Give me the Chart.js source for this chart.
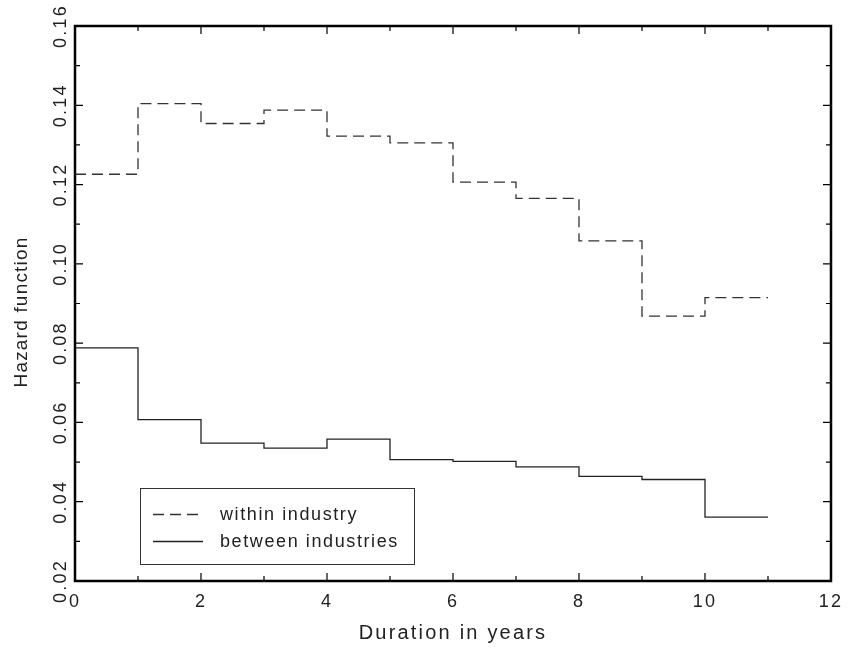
<!DOCTYPE html>
<html>
<head>
<meta charset="utf-8">
<script src="https://cdn.jsdelivr.net/npm/chart.js@4/dist/chart.umd.min.js"></script>
<style>
  html, body { margin: 0; padding: 0; background: #fff; }
  #wrap { width: 851px; height: 657px; }
</style>
</head>
<body>
<div id="wrap"><canvas id="c" width="851" height="657"></canvas></div>
<script>
// ---- data ----
const durationEdges = [0, 1, 2, 3, 4, 5, 6, 7, 8, 9, 10, 11];
const withinIndustry = [0.1226, 0.1404, 0.1354, 0.1388, 0.1322, 0.1305, 0.1206, 0.1165, 0.1058, 0.0868, 0.0915];
const betweenIndustries = [0.0788, 0.0607, 0.0548, 0.0535, 0.0558, 0.0506, 0.0502, 0.0488, 0.0464, 0.0456, 0.0361];
const seriesNames = ['within industry', 'between industries'];
const xTickValues = [0, 2, 4, 6, 8, 10, 12];
const xMinorTicks = [1, 3, 5, 7, 9, 11];
const yTickValues = [0.02, 0.04, 0.06, 0.08, 0.10, 0.12, 0.14, 0.16];
const yMinorTicks = [0.03, 0.05, 0.07, 0.09, 0.11, 0.13, 0.15];
const xTitle = 'Duration in years';
const yTitle = 'Hazard function';

function stepPoints(vals) {
  return durationEdges.map((x, i) => ({ x: x, y: vals[Math.min(i, vals.length - 1)] }));
}

const FONT = "'Liberation Sans', Arial, sans-serif";
const TEXT = '#222';

const framePlugin = {
  id: 'frame',
  beforeDraw(chart) {
    try { chart.ctx.letterSpacing = '2.2px'; } catch (e) {}
  },
  afterDatasetsDraw(chart) {
    const ctx = chart.ctx;
    const a = chart.chartArea;
    const xs = chart.scales.x, ys = chart.scales.y;
    ctx.save();
    ctx.strokeStyle = '#000';
    ctx.lineWidth = 1.2;
    const tick = (vals, len) => {
      vals.forEach(v => {
        const px = xs.getPixelForValue(v);
        ctx.beginPath();
        ctx.moveTo(px, a.bottom); ctx.lineTo(px, a.bottom - len);
        ctx.moveTo(px, a.top); ctx.lineTo(px, a.top + len);
        ctx.stroke();
      });
    };
    const ytick = (vals, len) => {
      vals.forEach(v => {
        const py = ys.getPixelForValue(v);
        ctx.beginPath();
        ctx.moveTo(a.left, py); ctx.lineTo(a.left + len, py);
        ctx.moveTo(a.right, py); ctx.lineTo(a.right - len, py);
        ctx.stroke();
      });
    };
    tick(xTickValues, 8); tick(xMinorTicks, 5);
    ytick(yTickValues, 8); ytick(yMinorTicks, 5);
    ctx.lineWidth = 2.5;
    ctx.strokeRect(a.left, a.top, a.right - a.left, a.bottom - a.top);

    // y axis title (rotated)
    ctx.save();
    ctx.translate(22, 312);
    ctx.rotate(-Math.PI / 2);
    ctx.fillStyle = TEXT;
    ctx.font = '19px ' + FONT;
    ctx.letterSpacing = '1.2px';
    ctx.textAlign = 'center';
    ctx.textBaseline = 'middle';
    ctx.fillText(yTitle, 0, 0);
    ctx.restore();

    // legend box
    const bx = 140, by = 488, bw = 274, bh = 76;
    ctx.lineWidth = 1;
    ctx.strokeStyle = '#333';
    ctx.strokeRect(bx + 0.5, by + 0.5, bw, bh);
    const ds = chart.data.datasets;
    const rows = [514, 541];
    ds.forEach((d, i) => {
      ctx.beginPath();
      ctx.strokeStyle = d.borderColor;
      ctx.lineWidth = d.borderWidth;
      ctx.setLineDash(d.borderDash || []);
      ctx.moveTo(153, rows[i] + 0.5); ctx.lineTo(203, rows[i] + 0.5);
      ctx.stroke();
      ctx.setLineDash([]);
      ctx.fillStyle = TEXT;
      ctx.font = '18px ' + FONT;
      ctx.letterSpacing = '1.6px';
      ctx.textAlign = 'left';
      ctx.textBaseline = 'middle';
      ctx.fillText(d.label, 220, rows[i] + 1);
    });
    ctx.restore();
  }
};

new Chart(document.getElementById('c'), {
  type: 'line',
  data: {
    datasets: [
      {
        label: seriesNames[0],
        data: stepPoints(withinIndustry),
        stepped: true,
        borderColor: '#333',
        borderWidth: 1.3,
        borderDash: [11, 6],
        pointRadius: 0,
        fill: false
      },
      {
        label: seriesNames[1],
        data: stepPoints(betweenIndustries),
        stepped: true,
        borderColor: '#222',
        borderWidth: 1.3,
        pointRadius: 0,
        fill: false
      }
    ]
  },
  options: {
    responsive: false,
    animation: false,
    devicePixelRatio: 1,
    layout: { padding: { top: 26, right: 16, left: 0, bottom: 0 } },
    plugins: { legend: { display: false }, tooltip: { enabled: false } },
    scales: {
      x: {
        type: 'linear',
        min: 0, max: 12,
        afterBuildTicks: s => { s.ticks = xTickValues.map(v => ({ value: v })); },
        afterFit: s => { s.height = 76; },
        grid: { display: false, drawTicks: false },
        border: { display: false },
        ticks: {
          padding: 10,
          color: TEXT,
          font: { family: FONT, size: 18 },
          maxRotation: 0,
          callback: v => String(v)
        },
        title: {
          display: true,
          text: xTitle,
          color: TEXT,
          font: { family: FONT, size: 20 },
          padding: { top: 0, bottom: 12 }
        }
      },
      y: {
        type: 'linear',
        min: 0.02, max: 0.16,
        afterBuildTicks: s => { s.ticks = yTickValues.map(v => ({ value: v })); },
        afterFit: s => { s.width = 75; },
        grid: { display: false, drawTicks: false },
        border: { display: false },
        ticks: {
          padding: -4,
          color: TEXT,
          minRotation: 90,
          maxRotation: 90,
          crossAlign: 'center',
          font: { family: FONT, size: 18 },
          callback: v => v.toFixed(2)
        },
        title: { display: false }
      }
    }
  },
  plugins: [framePlugin]
});
</script>
</body>
</html>
